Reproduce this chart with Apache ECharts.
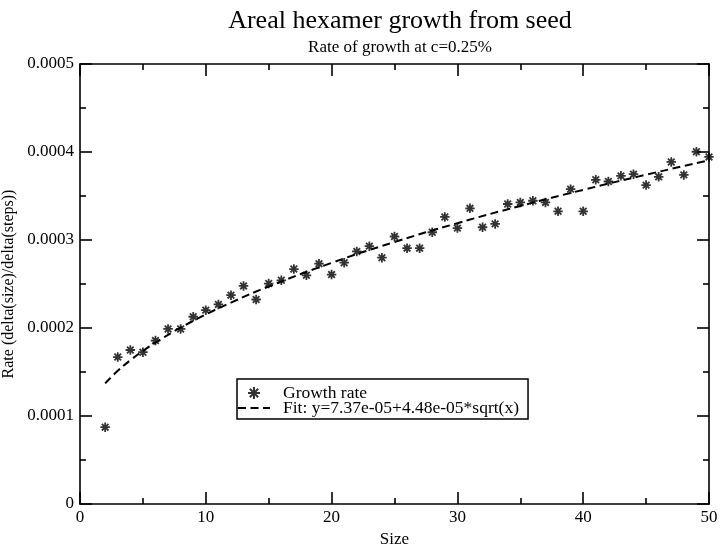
<!DOCTYPE html>
<html>
<head>
<meta charset="utf-8">
<script src="https://cdn.jsdelivr.net/npm/echarts@6/dist/echarts.min.js"></script>
<style>html,body{margin:0;padding:0;background:#fff;}#c{width:720px;height:544px;}</style>
</head>
<body>
<div id="c"></div>
<script>
var sizes = [2,3,4,5,6,7,8,9,10,11,12,13,14,15,16,17,18,19,20,21,22,23,24,25,26,27,28,29,30,31,32,33,34,35,36,37,38,39,40,41,42,43,44,45,46,47,48,49,50];
var rates = [0.0000873,0.000167,0.000175,0.0001725,0.0001857,0.0001989,0.0001989,0.0002128,0.0002203,0.0002268,0.0002373,0.0002478,0.0002324,0.0002505,0.0002542,0.000267,0.0002599,0.0002731,0.0002607,0.0002742,0.000287,0.000293,0.0002799,0.000304,0.0002907,0.0002907,0.0003088,0.0003262,0.0003135,0.000336,0.0003145,0.0003183,0.0003409,0.0003427,0.0003446,0.0003427,0.0003326,0.0003578,0.0003326,0.0003684,0.0003665,0.0003729,0.0003748,0.0003624,0.0003718,0.0003887,0.000374,0.0004003,0.0003944];
var fitX = [2,3,4,5,6,8,10,12,15,20,25,30,35,40,45,50];
var fitY = [0.0001371,0.0001513,0.0001633,0.0001739,0.0001834,0.0002004,0.0002154,0.0002289,0.0002472,0.000274,0.0002977,0.0003191,0.0003387,0.000357,0.0003742,0.0003905];
var xTicks = [0,10,20,30,40,50];
var xTickLabels = ['0','10','20','30','40','50'];
var yTicks = [0,0.0001,0.0002,0.0003,0.0004,0.0005];
var yTickLabels = ['0','0.0001','0.0002','0.0003','0.0004','0.0005'];
var seriesNames = ['Growth rate','Fit: y=7.37e-05+4.48e-05*sqrt(x)'];
var titleText = 'Areal hexamer growth from seed';
var subtitleText = 'Rate of growth at c=0.25%';
var xName = 'Size';
var yName = 'Rate (delta(size)/delta(steps))';

var FONT = '"Liberation Serif", "DejaVu Serif", serif';
function lab(ticks, labels){
  return function(v){
    for (var i=0;i<ticks.length;i++){ if (Math.abs(ticks[i]-v) < 1e-12) return labels[i]; }
    return '';
  };
}
var star = 'path://M5 0L5 10M0 5L10 5M1.5 1.5L8.5 8.5M8.5 1.5L1.5 8.5';
var axisLineStyle = {color:'#000', width:1.6};
function tickCfg(){ return {inside:true, length:12, lineStyle:{color:'#000', width:1.6}}; }
function minorCfg(){ return {show:true, splitNumber:2, length:6, lineStyle:{color:'#000', width:1.6}}; }
var chart = echarts.init(document.getElementById('c'), null, {renderer:'canvas'});
var scatterData = sizes.map(function(x,i){return [x, rates[i]];});
var fitData = fitX.map(function(x,i){return [x, fitY[i]];});
chart.setOption({
  animation:false,
  backgroundColor:'#fff',
  title:[
    {text:titleText, left:395, textAlign:'center', top:3, textStyle:{fontFamily:FONT, fontWeight:'normal', fontSize:26, color:'#000'}},
    {text:subtitleText, left:395, textAlign:'center', top:34, textStyle:{fontFamily:FONT, fontWeight:'normal', fontSize:17, color:'#000'}}
  ],
  grid:{left:80, right:11, top:64, bottom:40, outerBoundsMode:'none', containLabel:false},
  legend:{
    left:237, top:379, orient:'vertical', itemGap:-3, itemWidth:32, itemHeight:12,
    padding:[5,9,2,0], borderColor:'#000', borderWidth:1.5, backgroundColor:'#fff',
    textStyle:{fontFamily:FONT, fontSize:17.5, lineHeight:15, color:'#000', padding:[0,0,0,8]},
    data:[{name:seriesNames[0]},{name:seriesNames[1], itemStyle:{opacity:0}}]
  },
  xAxis:[
    {type:'value', min:0, max:50, interval:10, position:'bottom',
     name:xName, nameLocation:'middle', nameGap:21, nameTextStyle:{fontFamily:FONT, fontSize:17, color:'#000'},
     axisLine:{onZero:false, lineStyle:axisLineStyle}, axisTick:tickCfg(), minorTick:minorCfg(),
     axisLabel:{formatter:lab(xTicks,xTickLabels), fontFamily:FONT, fontSize:17, color:'#000', margin:5},
     splitLine:{show:false}},
    {type:'value', min:0, max:50, interval:10, position:'top',
     axisLine:{onZero:false, lineStyle:axisLineStyle}, axisTick:tickCfg(), minorTick:minorCfg(),
     axisLabel:{show:false}, splitLine:{show:false}}
  ],
  yAxis:[
    {type:'value', min:0, max:0.0005, interval:0.0001, position:'left',
     name:yName, nameLocation:'middle', nameGap:59, nameTextStyle:{fontFamily:FONT, fontSize:16, color:'#000'},
     axisLine:{onZero:false, lineStyle:axisLineStyle}, axisTick:tickCfg(), minorTick:minorCfg(),
     axisLabel:{formatter:lab(yTicks,yTickLabels), fontFamily:FONT, fontSize:17, color:'#000', margin:6},
     splitLine:{show:false}},
    {type:'value', min:0, max:0.0005, interval:0.0001, position:'right',
     axisLine:{onZero:false, lineStyle:axisLineStyle}, axisTick:tickCfg(), minorTick:minorCfg(),
     axisLabel:{show:false}, splitLine:{show:false}}
  ],
  series:[
    {name:seriesNames[0], type:'scatter', data:scatterData, symbol:star, symbolSize:9.5,
     itemStyle:{color:'#000', borderColor:'#000', borderWidth:1.8}, z:3},
    {name:seriesNames[1], type:'line', data:fitData, smooth:true, symbol:'none', showSymbol:false,
     lineStyle:{color:'#000', width:2, type:[8,4.5]}, itemStyle:{color:'#000'}, z:2}
  ]
});
</script>
</body>
</html>
